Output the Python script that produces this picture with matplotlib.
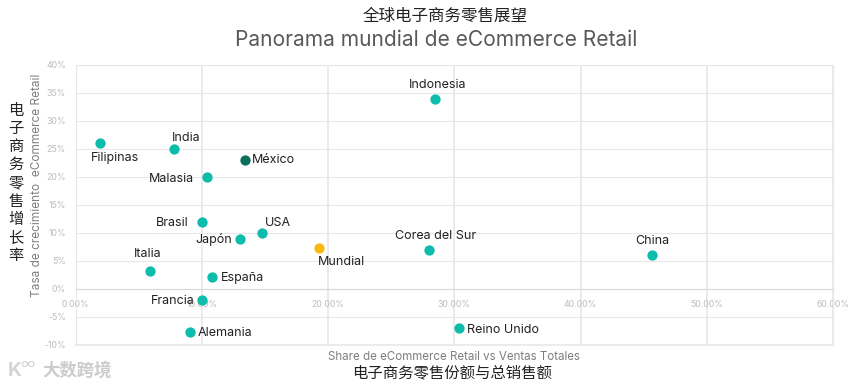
import matplotlib
matplotlib.use('Agg')
import matplotlib.pyplot as plt
from matplotlib.ticker import FuncFormatter

plt.rcParams['font.family'] = ['Inter', 'Noto Sans CJK SC', 'DejaVu Sans']

W, H = 865, 387

countries = ['Indonesia', 'Filipinas', 'India', 'México', 'Malasia', 'Brasil', 'USA', 'Japón',
             'Mundial', 'Corea del Sur', 'China', 'Italia', 'España', 'Francia', 'Alemania', 'Reino Unido']
share = [28.5, 1.95, 7.8, 13.4, 10.45, 10.0, 14.8, 13.05, 19.3, 28.0, 45.7, 5.9, 10.85, 10.0, 9.1, 30.4]
growth = [34, 26, 25, 23, 20, 12, 10, 9, 7.4, 6.9, 6, 3.3, 2.2, -2, -7.6, -6.9]

teal = '#0dbcaa'
colors = {'México': '#0b6f5c', 'Mundial': '#fbb811'}

# label offset from the point, in pixels
offsets = {
    'Indonesia': (2, 14), 'Filipinas': (14.5, -15), 'India': (12.5, 11), 'México': (29, 0),
    'Malasia': (-35.5, -2), 'Brasil': (-29.5, -1), 'USA': (15.5, 10), 'Japón': (-26.5, -1),
    'Mundial': (22, -14), 'Corea del Sur': (6.5, 14.5), 'China': (0, 14), 'Italia': (-2, 16.5),
    'España': (30, -1.5), 'Francia': (-29.5, -1), 'Alemania': (34.5, -1.5), 'Reino Unido': (44, -2.5),
}

fig = plt.figure(figsize=(W / 100, H / 100), dpi=100)
ax = fig.add_axes([75.5 / W, 1 - 345 / H, (833 - 75.5) / W, (345 - 65) / H])

ax.set_xlim(0, 60)
ax.set_ylim(-10, 40)
ax.set_xticks(range(0, 61, 10))
ax.set_yticks(range(-10, 41, 5))
ax.xaxis.set_major_formatter(FuncFormatter(lambda v, p: f'{v:.2f}%'))
ax.yaxis.set_major_formatter(FuncFormatter(lambda v, p: f'{v:.0f}%'))
ax.tick_params(length=0, labelsize=6.3, labelcolor='#bdbdbd')
ax.tick_params(axis='x', pad=8)
ax.tick_params(axis='y', pad=7)
ax.grid(True, axis='y', color='#e8e8e8', linewidth=0.8)
ax.grid(True, axis='x', color='#e6e6e6', linewidth=1.1)
ax.set_axisbelow(True)
for side in ['top', 'left', 'right']:
    ax.spines[side].set_color('#e8e8e8')
ax.spines['bottom'].set_position(('data', 0))
ax.spines['bottom'].set_color('#d9d9d9')
ax.axhline(-10, color='#e8e8e8', linewidth=1.2, clip_on=False)

for name, x, y in zip(countries, share, growth):
    ax.scatter(x, y, s=55, color=colors.get(name, teal), linewidths=0, zorder=3)
    ax.annotate(name, (x, y), xytext=offsets[name], textcoords='offset pixels',
                ha='center', va='center', fontsize=9, color='#222222', zorder=4)

fig.text(445 / W, 1 - 16 / H, '全球电子商务零售展望', ha='center', va='center', fontsize=11.9, color='#222222')
fig.text(436.5 / W, 1 - 39.5 / H, 'Panorama mundial de eCommerce Retail', ha='center', va='center',
         fontsize=15.1, color='#595959')
fig.text(454 / W, 1 - 357 / H, 'Share de eCommerce Retail vs Ventas Totales', ha='center', va='center',
         fontsize=8.3, color='#7f7f7f')
fig.text(452.5 / W, 1 - 373 / H, '电子商务零售份额与总销售额', ha='center', va='center', fontsize=11.1, color='#222222')
fig.text(37 / W, 1 - 185 / H, 'Tasa de crecimiento  eCommerce Retail', rotation=90, ha='center', va='center',
         fontsize=8.5, color='#7f7f7f')
fig.text(16 / W, 1 - 183 / H, '\n'.join('电子商务零售增长率'), ha='center', va='center', fontsize=11,
         color='#222222', linespacing=1.27)

# watermark
fig.text(8 / W, 1 - 371 / H, 'K', ha='left', va='center', fontsize=14, color='#d4d4d4', fontweight='bold')
fig.text(20 / W, 1 - 364 / H, '∞', ha='left', va='center', fontsize=11, color='#d4d4d4')
fig.text(42 / W, 1 - 371 / H, '大数跨境', ha='left', va='center', fontsize=12.5, color='#cccccc', fontweight='bold')

fig.savefig('out.png', dpi=100)
